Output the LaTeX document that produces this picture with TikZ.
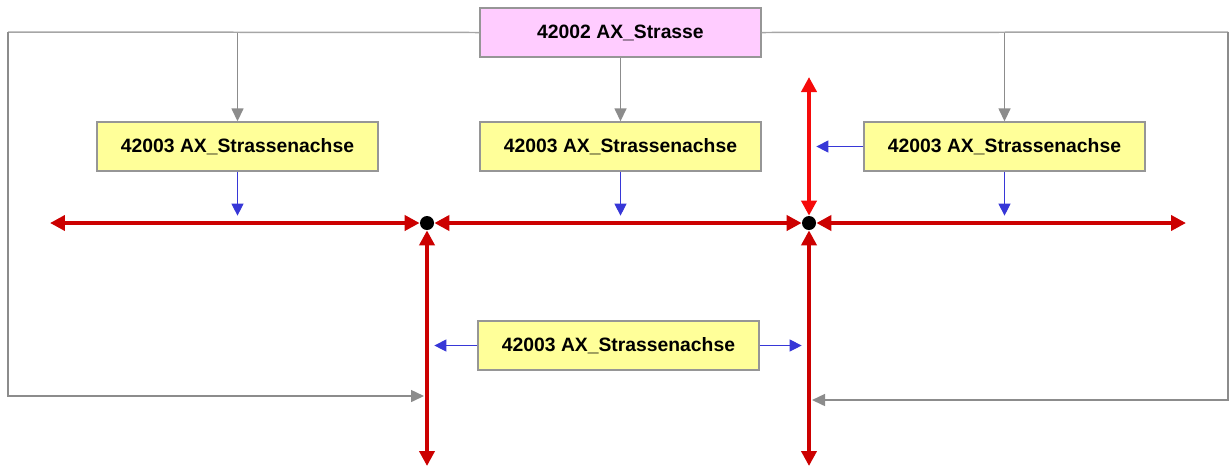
\documentclass[tikz,border=0pt]{standalone}
\usepackage{fontspec}
\setmainfont{Liberation Sans}
\usetikzlibrary{arrows.meta}
\definecolor{roadred}{RGB}{204,0,0}
\definecolor{roadbright}{RGB}{245,10,10}
\definecolor{linkgray}{RGB}{140,140,140}
\definecolor{boxgray}{RGB}{150,150,150}
\definecolor{refblue}{RGB}{55,55,215}
\definecolor{achsefill}{RGB}{255,255,153}
\definecolor{strassefill}{RGB}{255,204,255}

\tikzset{
  objbox/.style={draw=boxgray,line width=0.8pt,minimum width=5.62cm,minimum height=0.98cm,inner sep=0pt,font=\fontsize{11}{13}\selectfont\bfseries},
  achse/.style={objbox,fill=achsefill},
  strasse/.style={objbox,fill=strassefill},
  road/.style={line width=2.3pt,roadred,{Triangle[length=0.3cm,width=0.3cm]}-{Triangle[length=0.3cm,width=0.3cm]}},
  link/.style={line width=0.85pt,linkgray,-{Triangle[length=0.26cm,width=0.24cm]}},
  frame/.style={line width=0.85pt,boxgray!85},
  ref/.style={line width=0.6pt,refblue,-{Triangle[length=0.24cm,width=0.24cm]}},
  knot/.style={circle,fill=black,inner sep=0pt,minimum size=0.28cm}
}

\begin{document}
\begin{tikzpicture}[x=0.02cm,y=-0.02cm]
    \useasboundingbox (0,0) rectangle (1229,468);

    % objects
    \node[strasse] (str) at (620.5,32.5) {42002 AX\_Strasse};
    \node[achse] (achseL) at (237.5,146.5) {42003 AX\_Strassenachse};
    \node[achse] (achseM) at (620.5,146.5) {42003 AX\_Strassenachse};
    \node[achse] (achseR) at (1004.5,146.5) {42003 AX\_Strassenachse};
    \node[achse] (achseB) at (618.5,345.5) {42003 AX\_Strassenachse};

    % road network
    \node[knot] (dotL) at (427,223) {};
    \node[knot] (dotR) at (809,223) {};
    \coordinate (endW) at (50,223);
    \coordinate (endE) at (1186,223);
    \coordinate (endN) at (809,77);
    \coordinate (endSL) at (427,466);
    \coordinate (endSR) at (809,466);

    % frame corners
    \coordinate (cornerNW) at (8,32);
    \coordinate (cornerSW) at (8,396);
    \coordinate (frameL) at (424,396);
    \coordinate (cornerNE) at (1228,32);
    \coordinate (cornerSE) at (1228,400);
    \coordinate (frameR) at (812,400);

    \draw[frame] (str.west) -- (cornerNW);
    \draw[frame] (str.east) -- (cornerNE);
    \draw[link] (cornerNW) -- (cornerSW) -- (frameL);
    \draw[link] (cornerNE) -- (cornerSE) -- (frameR);

    \draw[link] (achseL.north |- str.west) -- (achseL.north);
    \draw[link] (str) -- (achseM);
    \draw[link] (achseR.north |- str.east) -- (achseR.north);

    \draw[road] (endW) -- (dotL);
    \draw[road] (dotL) -- (dotR);
    \draw[road] (dotR) -- (endE);
    \draw[road,roadbright] (endN) -- (dotR);
    \draw[road] (endSL) -- (dotL);
    \draw[road] (endSR) -- (dotR);

    \draw[ref] (achseL) -- (achseL.south |- dotL.north);
    \draw[ref] (achseM) -- (achseM.south |- dotR.north);
    \draw[ref] (achseR) -- (achseR.south |- dotR.north);
    \draw[ref] (achseR) -- (achseR.west -| dotR.east);
    \draw[ref] (achseB) -- (achseB.west -| dotL.east);
    \draw[ref] (achseB) -- (achseB.east -| dotR.west);
\end{tikzpicture}
\end{document}
